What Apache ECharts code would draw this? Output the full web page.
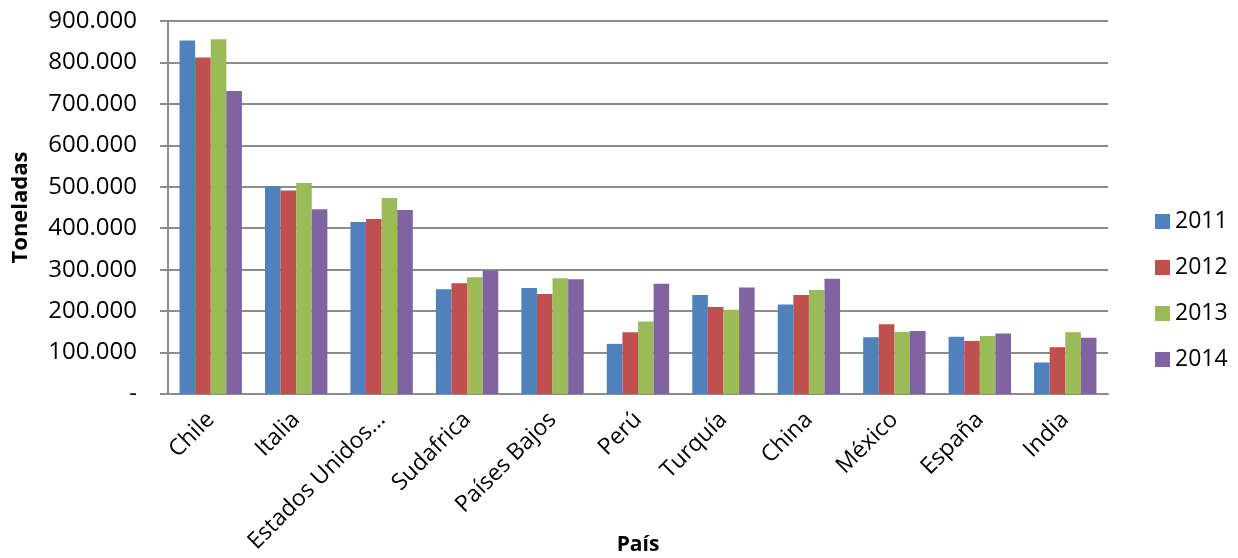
<!DOCTYPE html>
<html>
<head>
<meta charset="utf-8">
<script src="https://cdn.jsdelivr.net/npm/echarts@6/dist/echarts.min.js"></script>
<style>
html,body{margin:0;padding:0;background:#fff;}
#chart{width:1238px;height:558px;}
</style>
</head>
<body>
<div id="chart"></div>
<script>
var categories = ["Chile","Italia","Estados Unidos...","Sudafrica","Países Bajos","Perú","Turquía","China","México","España","India"];
var years = ["2011","2012","2013","2014"];
var v2011 = [853000,501000,415000,253000,256000,121000,239000,216000,137000,138000,76000];
var v2012 = [812000,491000,422000,267000,241000,149000,210000,239000,168000,128000,113000];
var v2013 = [856000,509000,473000,282000,279000,175000,203000,251000,150000,140000,149000];
var v2014 = [731000,446000,444000,298000,277000,266000,257000,278000,152000,146000,136000];
var colors = ["#4F81BD","#C0504D","#9BBB59","#8064A2"];

var font = "Open Sans";
var chart = echarts.init(document.getElementById('chart'));
function fmt(v){
  if (v === 0) return '-';
  return String(v).replace(/\B(?=(\d{3})+(?!\d))/g, '.');
}
var seriesData = [v2011, v2012, v2013, v2014];
chart.setOption({
  animation: false,
  color: colors,
  textStyle: {fontFamily: font},
  grid: {left: 168, right: 130, top: 21, bottom: 164, containLabel: false, outerBoundsMode: 'none'},
  legend: {
    orient: 'vertical',
    left: 1150, top: 205,
    itemWidth: 15, itemHeight: 15, itemGap: 23,
    icon: 'rect',
    textStyle: {fontFamily: font, fontSize: 23, color: '#000'},
    data: years
  },
  xAxis: {
    type: 'category',
    data: categories,
    name: 'País',
    nameLocation: 'middle',
    nameGap: 141,
    nameMoveOverlap: false,
    nameTextStyle: {fontFamily: font, fontSize: 21, fontWeight: 'bold', color: '#000'},
    axisLine: {lineStyle: {color: '#8c8c8c', width: 2}},
    axisTick: {show: false},
    axisLabel: {rotate: 45, fontSize: 23, color: '#000', fontFamily: font, margin: 22, interval: 0}
  },
  yAxis: {
    type: 'value',
    min: 0, max: 900000, interval: 100000,
    name: 'Toneladas',
    nameLocation: 'middle',
    nameGap: 136,
    nameMoveOverlap: false,
    nameTextStyle: {fontFamily: font, fontSize: 22, fontWeight: 'bold', color: '#000'},
    axisLine: {show: true, lineStyle: {color: '#8c8c8c', width: 2}},
    axisTick: {show: true, length: 8, lineStyle: {color: '#8c8c8c', width: 2}},
    splitLine: {lineStyle: {color: '#8c8c8c', width: 2}},
    axisLabel: {formatter: fmt, fontSize: 24, color: '#000', fontFamily: font, margin: 31}
  },
  series: years.map(function(y, i){
    return {
      name: y, type: 'bar', data: seriesData[i],
      barGap: '0%', barCategoryGap: '27%',
      itemStyle: {color: colors[i]}
    };
  })
});
</script>
</body>
</html>
